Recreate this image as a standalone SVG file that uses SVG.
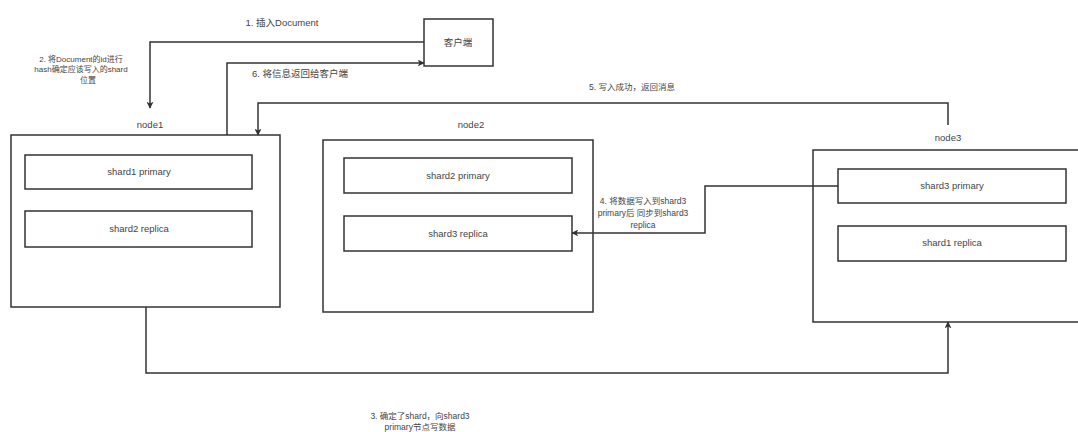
<svg xmlns="http://www.w3.org/2000/svg" width="1078" height="432" viewBox="0 0 1078 432">
<style>
.box{fill:#fff;stroke:#333;stroke-width:1.5}
.t{font-family:"Liberation Sans","Noto Sans CJK SC",sans-serif;font-size:9.5px;fill:#444;text-anchor:middle;dominant-baseline:middle}
.s{font-size:8px}
.m{font-size:8.5px}
.c{fill:none;stroke:#333;stroke-width:1.5}
</style>
<defs>
<marker id="ah" viewBox="0 0 10 10" refX="9" refY="5" markerWidth="7" markerHeight="7" markerUnits="userSpaceOnUse" orient="auto">
<path d="M0,0 L10,5 L0,10 L2.5,5 Z" fill="#333"/>
</marker>
</defs>
<rect width="1078" height="432" fill="#fff"/>
<g id="client"><rect class="box" x="424" y="19" width="69" height="47"/><text class="t" x="458" y="43">客户端</text></g>
<g id="node1"><rect class="box" x="11" y="135" width="269" height="172"/><text class="t" x="150" y="125">node1</text>
<g id="shard1-primary"><rect class="box" x="25" y="155" width="227" height="34"/><text class="t" x="139" y="172">shard1 primary</text></g>
<g id="shard2-replica"><rect class="box" x="25" y="211" width="227" height="36"/><text class="t" x="139" y="229">shard2 replica</text></g>
</g>
<g id="node2"><rect class="box" x="323" y="140" width="270" height="172"/><text class="t" x="471" y="125">node2</text>
<g id="shard2-primary"><rect class="box" x="344" y="158" width="228" height="35"/><text class="t" x="458" y="176">shard2 primary</text></g>
<g id="shard3-replica"><rect class="box" x="344" y="216" width="228" height="35"/><text class="t" x="458" y="234">shard3 replica</text></g>
</g>
<g id="node3"><rect class="box" x="813" y="150" width="280" height="172"/><text class="t" x="948" y="138">node3</text>
<g id="shard3-primary"><rect class="box" x="838" y="169" width="228" height="34"/><text class="t" x="952" y="186">shard3 primary</text></g>
<g id="shard1-replica"><rect class="box" x="838" y="226" width="228" height="35"/><text class="t" x="952" y="243">shard1 replica</text></g>
</g>
<g id="connectors">
<path class="c" d="M424,42 H150 V108" marker-end="url(#ah)"/>
<path class="c" d="M227,135 V63 H424" marker-end="url(#ah)"/>
<path class="c" d="M948,125 V103 H258 V135" marker-end="url(#ah)"/>
<path class="c" d="M838,186 H705 V233 H572" marker-end="url(#ah)"/>
<path class="c" d="M146,307 V373 H948 V322" marker-end="url(#ah)"/>
</g>
<g id="labels">
<text class="t" x="282" y="23">1. 插入Document</text>
<text class="t s" x="81" y="60">2. 将Document的id进行</text>
<text class="t s" x="81" y="70">hash确定应该写入的shard</text>
<text class="t s" x="88" y="81">位置</text>
<text class="t" x="300" y="74">6. 将信息返回给客户端</text>
<text class="t m" x="632" y="88">5. 写入成功，返回消息</text>
<text class="t m" x="643" y="202">4. 将数据写入到shard3</text>
<text class="t m" x="643" y="214">primary后 同步到shard3</text>
<text class="t m" x="643" y="226">replica</text>
<text class="t m" x="420" y="417">3. 确定了shard，向shard3</text>
<text class="t m" x="420" y="428">primary节点写数据</text>
</g>
</svg>
